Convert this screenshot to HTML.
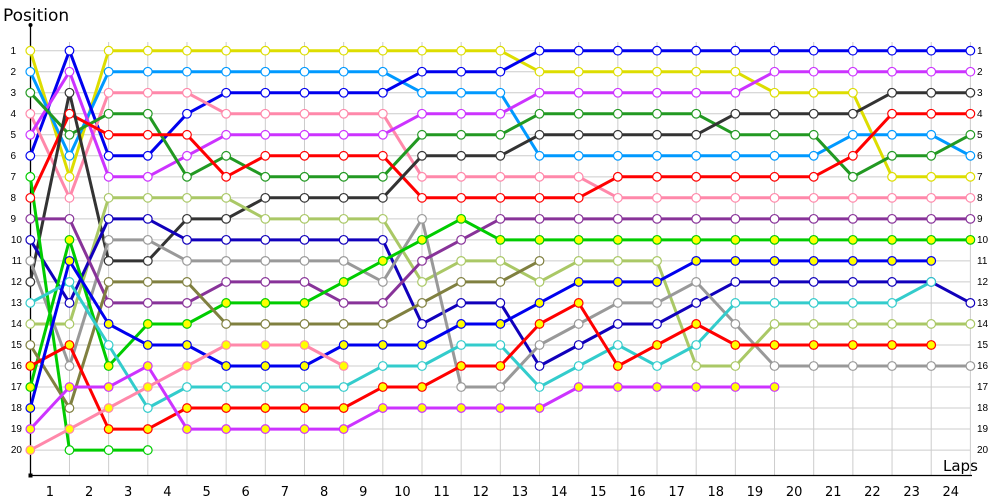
<!DOCTYPE html>
<html><head><meta charset="utf-8"><style>
html,body{margin:0;padding:0;background:#fff;}
svg{display:block;font-family:"Liberation Sans","DejaVu Sans",sans-serif;}
</style></head><body>
<svg id="c" width="1000" height="500" viewBox="0 0 1000 500" xmlns="http://www.w3.org/2000/svg">
<g id="grid" stroke="#cccccc" stroke-width="1"></g>
<line x1="30.5" y1="25" x2="30.5" y2="475" stroke="#000" stroke-width="1.3"/>
<line x1="30" y1="475.5" x2="972" y2="475.5" stroke="#000" stroke-width="1.3"/>
<circle cx="30.5" cy="25" r="2" fill="#000"/>
<rect x="28.5" y="473.5" width="4" height="4" fill="#000"/>
<text x="3" y="21" font-size="17" fill="#000" font-family="DejaVu Sans, sans-serif">Position</text>
<text x="943" y="471" font-size="15" fill="#000" font-family="DejaVu Sans, sans-serif">Laps</text>
<g font-size="10" fill="#000" text-anchor="end">
<text x="16" y="54">1</text><text x="16" y="75">2</text><text x="16" y="96">3</text><text x="16" y="117">4</text><text x="16" y="138">5</text><text x="16" y="159">6</text><text x="16" y="180">7</text><text x="16" y="201">8</text><text x="16" y="222">9</text><text x="22" y="243">10</text><text x="22" y="264">11</text><text x="22" y="285">12</text><text x="22" y="306">13</text><text x="22" y="327">14</text><text x="22" y="348">15</text><text x="22" y="369">16</text><text x="22" y="390">17</text><text x="22" y="411">18</text><text x="22" y="432">19</text><text x="22" y="453">20</text>
</g>
<g font-size="10" fill="#000">
<text x="977" y="54">1</text><text x="977" y="75">2</text><text x="977" y="96">3</text><text x="977" y="117">4</text><text x="977" y="138">5</text><text x="977" y="159">6</text><text x="977" y="180">7</text><text x="977" y="201">8</text><text x="977" y="222">9</text><text x="977" y="243">10</text><text x="977" y="264">11</text><text x="977" y="285">12</text><text x="977" y="306">13</text><text x="977" y="327">14</text><text x="977" y="348">15</text><text x="977" y="369">16</text><text x="977" y="390">17</text><text x="977" y="411">18</text><text x="977" y="432">19</text><text x="977" y="453">20</text>
</g>
<g font-size="13" fill="#000" text-anchor="middle" font-family="DejaVu Sans, sans-serif">
<text x="49.9" y="496">1</text><text x="89.1" y="496">2</text><text x="128.2" y="496">3</text><text x="167.4" y="496">4</text><text x="206.6" y="496">5</text><text x="245.7" y="496">6</text><text x="284.9" y="496">7</text><text x="324.1" y="496">8</text><text x="363.3" y="496">9</text><text x="402.4" y="496">10</text><text x="441.6" y="496">11</text><text x="480.8" y="496">12</text><text x="519.9" y="496">13</text><text x="559.1" y="496">14</text><text x="598.3" y="496">15</text><text x="637.4" y="496">16</text><text x="676.6" y="496">17</text><text x="715.8" y="496">18</text><text x="754.9" y="496">19</text><text x="794.1" y="496">20</text><text x="833.3" y="496">21</text><text x="872.4" y="496">22</text><text x="911.6" y="496">23</text><text x="950.8" y="496">24</text>
</g>
<g id="series"></g>
</svg>
<script>
var NS="http://www.w3.org/2000/svg";
function X(i){return 30.3+39.17*i;}
function Y(p){return 50.7+21.02*(p-1);}
var g=document.getElementById('grid');
for(var i=1;i<=24;i++){var l=document.createElementNS(NS,'line');l.setAttribute('x1',X(i));l.setAttribute('x2',X(i));l.setAttribute('y1',42);l.setAttribute('y2',475);g.appendChild(l);}
for(var p=1;p<=20;p++){var l=document.createElementNS(NS,'line');l.setAttribute('x1',30);l.setAttribute('x2',X(24));l.setAttribute('y1',Y(p));l.setAttribute('y2',Y(p));g.appendChild(l);}
var S=[
["#dddd00",0,[1,7,1,1,1,1,1,1,1,1,1,1,1,2,2,2,2,2,2,3,3,3,7,7,7]],
["#0099ff",0,[2,6,2,2,2,2,2,2,2,2,3,3,3,6,6,6,6,6,6,6,6,5,5,5,6]],
["#0000ee",0,[6,1,6,6,4,3,3,3,3,3,2,2,2,1,1,1,1,1,1,1,1,1,1,1,1]],
["#ff88aa",0,[4,8,3,3,3,4,4,4,4,4,7,7,7,7,7,8,8,8,8,8,8,8,8,8,8]],
["#cc33ff",0,[5,2,7,7,6,5,5,5,5,5,4,4,4,3,3,3,3,3,3,2,2,2,2,2,2]],
["#229922",0,[3,5,4,4,7,6,7,7,7,7,5,5,5,4,4,4,4,4,5,5,5,7,6,6,5]],
["#ff0000",0,[8,4,5,5,5,7,6,6,6,6,8,8,8,8,8,7,7,7,7,7,7,6,4,4,4]],
["#333333",0,[12,3,11,11,9,9,8,8,8,8,6,6,6,5,5,5,5,5,4,4,4,4,3,3,3]],
["#aac866",0,[14,14,8,8,8,8,9,9,9,9,12,11,11,12,11,11,11,16,16,14,14,14,14,14,14]],
["#1100bb",0,[10,13,9,9,10,10,10,10,10,10,14,13,13,16,15,14,14,13,12,12,12,12,12,12,13]],
["#999999",0,[11,16,10,10,11,11,11,11,11,12,9,17,17,15,14,13,13,12,14,16,16,16,16,16,16]],
["#883399",0,[9,9,13,13,13,12,12,12,13,13,11,10,9,9,9,9,9,9,9,9,9,9,9,9,9]],
["#00cc00",0,[7,20,20,20]],
["#00cc00",1,[17,10,16,14,14,13,13,13,12,11,10,9,10,10,10,10,10,10,10,10,10,10,10,10,10]],
["#808040",0,[15,18,12,12,12,14,14,14,14,14,13,12,12,11]],
["#33cccc",0,[13,12,15,18,17,17,17,17,17,16,16,15,15,17,16,15,16,15,13,13,13,13,13,12]],
["#ff0000",1,[16,15,19,19,18,18,18,18,18,17,17,16,16,14,13,16,15,14,15,15,15,15,15,15]],
["#0000ee",1,[18,11,14,15,15,16,16,16,15,15,15,14,14,13,12,12,12,11,11,11,11,11,11,11]],
["#cc33ff",1,[19,17,17,16,19,19,19,19,19,18,18,18,18,18,17,17,17,17,17,17]],
["#ff88aa",1,[20,19,18,17,16,15,15,15,16]]
];
var sg=document.getElementById('series');
S.forEach(function(s){
  var pts=s[2].map(function(p,i){return X(i).toFixed(1)+','+Y(p).toFixed(1);}).join(' ');
  var pl=document.createElementNS(NS,'polyline');
  pl.setAttribute('points',pts);pl.setAttribute('fill','none');pl.setAttribute('stroke',s[0]);
  pl.setAttribute('stroke-width','3');pl.setAttribute('stroke-linejoin','round');
  sg.appendChild(pl);
});
S.forEach(function(s){
  s[2].forEach(function(p,i){
    var c=document.createElementNS(NS,'circle');
    c.setAttribute('cx',X(i));c.setAttribute('cy',Y(p));c.setAttribute('r','4.3');
    c.setAttribute('fill',s[1]?'#ffff00':'#ffffff');c.setAttribute('stroke',s[0]);c.setAttribute('stroke-width','1.2');
    sg.appendChild(c);
  });
});
</script>
</body></html>
